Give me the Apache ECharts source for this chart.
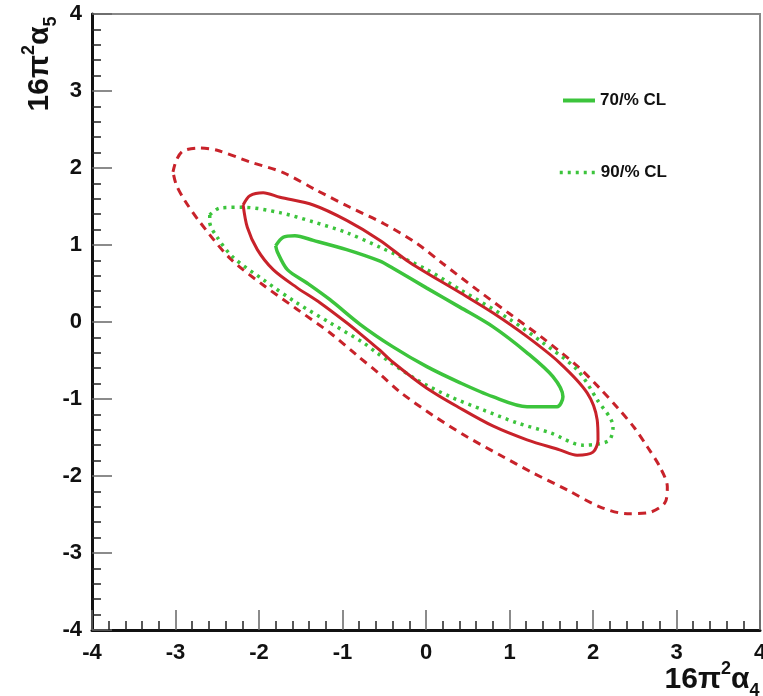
<!DOCTYPE html>
<html>
<head>
<meta charset="utf-8">
<script src="https://cdn.jsdelivr.net/npm/echarts@6/dist/echarts.min.js"></script>
<style>
html,body{margin:0;padding:0;background:#fff;}
#chart{width:763px;height:696px;}
</style>
</head>
<body>
<div id="chart"></div>
<script>
// Axis ticks
const xTicks = [-4, -3, -2, -1, 0, 1, 2, 3, 4];
const yTicks = [-4, -3, -2, -1, 0, 1, 2, 3, 4];

// Axis titles
const xTitle = '{a|16π}{s|2}{a|α}{b|4}';
const yTitle = '{a|16π}{s|2}{a|α}{b|5}';

// Legend labels
const legendNames = ['70/% CL', '90/% CL'];

// Green solid contour (70% CL)
const green70 = [
  [-1.80, 0.99], [-1.71, 1.10], [-1.57, 1.12], [-1.35, 1.06], [-0.95, 0.94],
  [-0.55, 0.79], [-0.40, 0.70], [0.01, 0.44], [0.41, 0.19], [0.80, -0.06],
  [1.21, -0.40], [1.52, -0.71], [1.64, -0.97], [1.57, -1.10], [1.21, -1.10],
  [0.80, -0.97], [0.41, -0.79], [0.01, -0.58], [-0.40, -0.32], [-0.79, -0.03],
  [-1.15, 0.29], [-1.43, 0.51], [-1.66, 0.68], [-1.78, 0.91], [-1.80, 0.99]
];

// Green dotted contour (90% CL)
const green90 = [
  [-2.59, 1.39], [-2.47, 1.48], [-2.19, 1.49], [-1.75, 1.42], [-1.35, 1.30],
  [-0.95, 1.16], [-0.55, 0.97], [0.01, 0.68], [0.41, 0.42], [1.01, 0.03],
  [1.40, -0.27], [1.81, -0.62], [2.05, -1.01], [2.24, -1.36], [2.20, -1.53],
  [2.08, -1.58], [1.88, -1.60], [1.49, -1.44], [1.09, -1.31], [0.68, -1.14],
  [0.29, -0.97], [-0.11, -0.75], [-0.59, -0.40], [-0.75, -0.27], [-1.15, -0.01],
  [-1.55, 0.25], [-1.95, 0.55], [-2.31, 0.84], [-2.50, 1.10], [-2.59, 1.30],
  [-2.59, 1.39]
];

// Red solid contour
const red70 = [
  [-2.19, 1.52], [-2.11, 1.64], [-1.95, 1.68], [-1.75, 1.62], [-1.35, 1.52],
  [-0.95, 1.32], [-0.55, 1.06], [-0.19, 0.77], [0.41, 0.38], [0.80, 0.12],
  [1.21, -0.19], [1.60, -0.53], [1.93, -0.92], [2.05, -1.27], [2.06, -1.53],
  [2.00, -1.69], [1.81, -1.73], [1.60, -1.66], [1.21, -1.53], [0.80, -1.35],
  [0.41, -1.12], [0.01, -0.86], [-0.40, -0.52], [-0.55, -0.37], [-0.79, -0.15],
  [-0.95, -0.01], [-1.27, 0.25], [-1.55, 0.45], [-1.83, 0.68], [-2.02, 0.94],
  [-2.14, 1.23], [-2.19, 1.52]
];

// Red dashed contour
const red90 = [
  [-3.03, 1.95], [-2.99, 2.10], [-2.91, 2.22], [-2.71, 2.26], [-2.50, 2.23],
  [-2.11, 2.08], [-1.71, 1.94], [-1.31, 1.71], [-0.91, 1.49], [-0.51, 1.28],
  [-0.11, 1.02], [0.20, 0.76], [0.61, 0.42], [1.01, 0.10], [1.40, -0.21],
  [1.81, -0.57], [2.08, -0.86], [2.30, -1.12], [2.50, -1.38], [2.65, -1.62],
  [2.80, -1.88], [2.89, -2.14], [2.86, -2.35], [2.65, -2.48], [2.41, -2.49],
  [2.08, -2.40], [1.69, -2.18], [1.28, -1.96], [0.89, -1.73], [0.49, -1.49],
  [0.08, -1.21], [-0.31, -0.91], [-0.55, -0.68], [-0.83, -0.43], [-1.15, -0.14],
  [-1.55, 0.17], [-1.95, 0.48], [-2.35, 0.83], [-2.71, 1.30], [-2.89, 1.58],
  [-2.99, 1.78], [-3.03, 1.95]
];

const RED = '#c8222a';
const GREEN = '#3cc43c';
const FONT = '"Liberation Sans", Arial, sans-serif';

const chart = echarts.init(document.getElementById('chart'), null, {renderer: 'canvas'});

const tickLabel = {
  fontFamily: FONT, fontWeight: 'bold', fontSize: 22, color: '#111'
};

const legendText = {fontFamily: FONT, fontWeight: 'bold', fontSize: 17, color: '#111'};

function titleRich(big, small) {
  return {
    a: {fontFamily: FONT, fontWeight: 'bold', fontSize: big, fill: '#111', lineHeight: 40},
    s: {fontFamily: FONT, fontWeight: 'bold', fontSize: small, fill: '#111', verticalAlign: 'top', lineHeight: 40},
    b: {fontFamily: FONT, fontWeight: 'bold', fontSize: small, fill: '#111', verticalAlign: 'bottom', lineHeight: 40}
  };
}

const option = {
  backgroundColor: '#fff',
  animation: false,
  grid: {
    left: 92, top: 14, right: 3, bottom: 66,
    outerBoundsMode: 'none', containLabel: false,
    show: true, borderColor: '#888', borderWidth: 2, backgroundColor: 'transparent'
  },
  xAxis: {
    type: 'value', min: xTicks[0], max: xTicks[xTicks.length - 1], interval: 1,
    axisLine: {show: true, onZero: false, lineStyle: {color: '#111', width: 3}},
    axisTick: {show: true, inside: true, length: 20, lineStyle: {color: '#666', width: 1.5}},
    minorTick: {show: true, splitNumber: 5, length: 9, lineStyle: {color: '#222', width: 1.5}},
    splitLine: {show: false},
    axisLabel: Object.assign({margin: 12, formatter: v => String(v)}, tickLabel)
  },
  yAxis: {
    type: 'value', min: yTicks[0], max: yTicks[yTicks.length - 1], interval: 1,
    axisLine: {show: true, onZero: false, lineStyle: {color: '#111', width: 3}},
    axisTick: {show: true, inside: true, length: 20, lineStyle: {color: '#666', width: 1.5}},
    minorTick: {show: true, splitNumber: 5, length: 9, lineStyle: {color: '#222', width: 1.5}},
    splitLine: {show: false},
    axisLabel: Object.assign({margin: 10, formatter: v => String(v)}, tickLabel)
  },
  legend: [
    {
      data: [legendNames[0]], left: 556, top: 87, orient: 'vertical',
      itemWidth: 32, itemHeight: 14, itemGap: 0,
      itemStyle: {opacity: 0},
      lineStyle: {width: 4},
      textStyle: legendText
    },
    {
      data: [legendNames[1]], left: 553, top: 159, orient: 'vertical',
      itemWidth: 36, itemHeight: 14, itemGap: 0,
      itemStyle: {opacity: 0},
      lineStyle: {width: 3.5},
      textStyle: legendText
    }
  ],
  graphic: [
    {
      type: 'text', x: 40, y: 64, rotation: Math.PI / 2,
      style: {
        text: yTitle,
        align: 'center', verticalAlign: 'middle',
        rich: titleRich(30, 18)
      }
    },
    {
      type: 'text', x: 712, y: 680,
      style: {
        text: xTitle,
        align: 'center', verticalAlign: 'middle',
        rich: titleRich(30, 18)
      }
    }
  ],
  series: [
    {
      name: 'red90', type: 'line', data: red90, symbol: 'none', smooth: 0.3,
      lineStyle: {color: RED, width: 3, type: [8, 6]}, z: 2
    },
    {
      name: legendNames[1], type: 'line', data: green90, symbol: 'none', smooth: 0.3,
      color: GREEN,
      lineStyle: {color: GREEN, width: 3.5, type: [3, 5]}, z: 3
    },
    {
      name: 'red70', type: 'line', data: red70, symbol: 'none', smooth: 0.3,
      lineStyle: {color: RED, width: 3}, z: 4
    },
    {
      name: legendNames[0], type: 'line', data: green70, symbol: 'none', smooth: 0.3,
      color: GREEN,
      lineStyle: {color: GREEN, width: 3.5}, z: 5
    }
  ]
};

chart.setOption(option);
</script>
</body>
</html>
